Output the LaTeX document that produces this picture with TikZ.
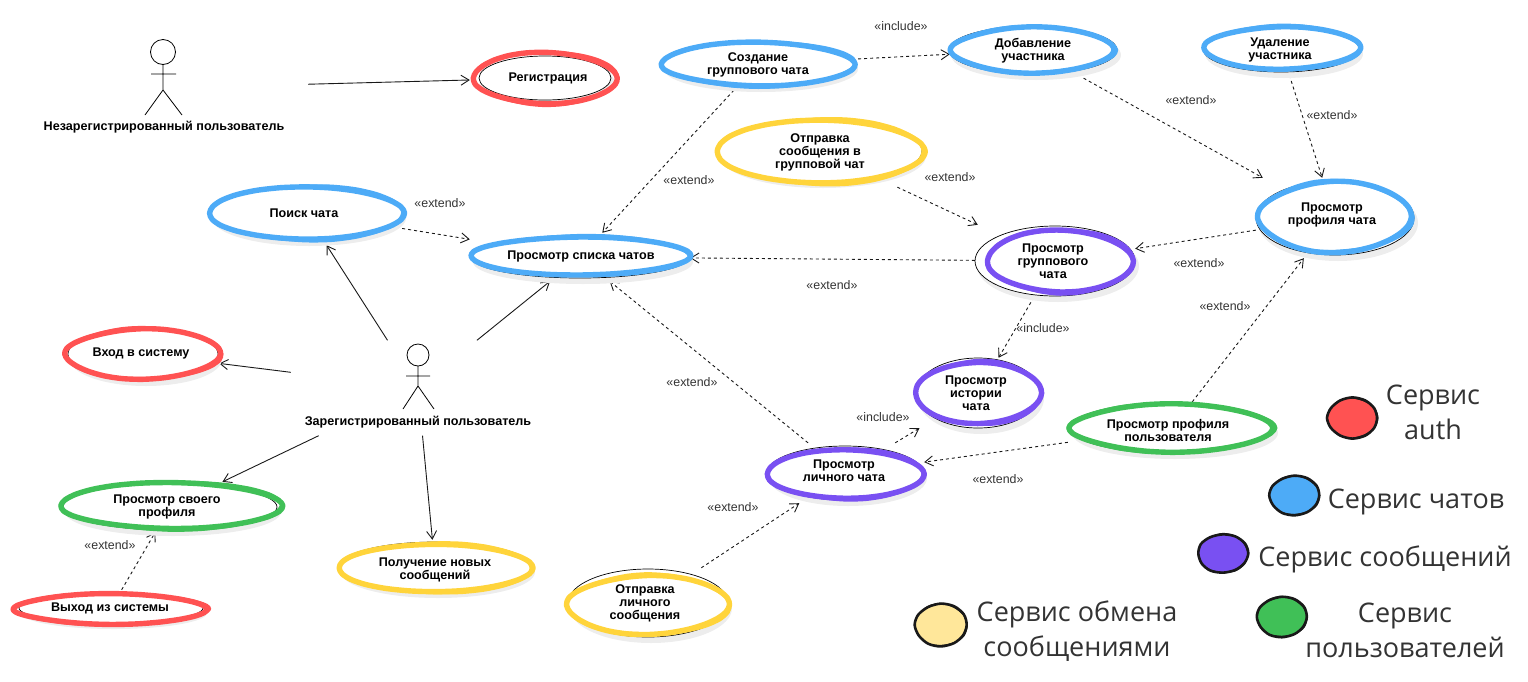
\documentclass[tikz,border=0pt]{standalone}
\usepackage{fontspec}
\setmainfont{Liberation Sans}
\newfontfamily\legendfont{Open Sans}
\usetikzlibrary{arrows.meta,backgrounds}
\definecolor{authred}{HTML}{FF5252}
\definecolor{chatblue}{HTML}{4DABF7}
\definecolor{msgpurple}{HTML}{7950F2}
\definecolor{usergreen}{HTML}{40C057}
\definecolor{xchgyellow}{HTML}{FFD43B}
\definecolor{xchgpale}{HTML}{FFE79A}
\definecolor{labelgray}{HTML}{333333}
\tikzset{
  casebox/.style={inner sep=0pt},
  casetext/.style={inner sep=0pt, align=center, font=\fontsize{12.6}{13}\selectfont\bfseries},
  actortext/.style={inner sep=0pt, font=\fontsize{12.6}{13}\selectfont\bfseries},
  relation/.style={labelgray, inner sep=0pt, font=\fontsize{12.4}{13}\selectfont},
  assoc/.style={-{Straight Barb[length=8pt,width=10pt]}, line width=0.9pt, black!90},
  depend/.style={-{Straight Barb[length=8pt,width=10pt]}, dash pattern=on 3pt off 3pt, line width=0.9pt, black!90},
  legendtext/.style={labelgray, inner sep=0pt, align=center, font=\fontsize{27}{35}\selectfont\legendfont},
}
\begin{document}
\begin{tikzpicture}[x=1pt, y=-1pt]
  \useasboundingbox (0,0) rectangle (1528,681);
  % Use cases: box, thin ellipse, marker stroke
  \foreach \nm/\cx/\cy/\hw/\hh/\rx/\ry/\ex/\ey/\dx/\dy/\col/\ph in {
      reg/545/78/75/28/66/22/73/27.5/0/0/authred/20,
      search/306/213/96/32/96/27/98.5/28.5/0/0/chatblue/70,
      list/580/257/110/24/109/21/111/21/0/-1/chatblue/130,
      login/143/354/76/28/75/26/79/26.5/0/0/authred/200,
      ownprofile/170/507/112/25/107/23/112/25/1/-1.5/usergreen/40,
      logout/111/608/98/18/92/15/98/16.5/0/1/authred/300,
      newmsg/435/567/100/27/96/25/98/26/0/1/xchgyellow/100,
      creategroup/758/64/100/26/96/22/98/23.5/0/0/chatblue/10,
      addmember/1033/50/83/28/84/24/83/24/0/0/chatblue/250,
      delmember/1281/49/80/26/78/23/79.5/23/1/-1/chatblue/160,
      sendgroup/820/151/105/36/102/31/105/34/0/0.5/xchgyellow/80,
      chatprofile/1335/218/79/40/79/37/78/36.5/0/-1/chatblue/220,
      groupview/1055/261/80/36/80/35/74/33/5/0/msgpurple/30,
      history/978/393/63/35/62/35/64/33/0/0/msgpurple/120,
      userprofile/1172/428/104/26/102/25/103/25/0/0/usergreen/280,
      personal/845/473/79/30/78/27/79.5/26.5/0/1/msgpurple/60,
      sendpersonal/648/603/84/35/80/34/82.5/31/0/2/xchgyellow/180} {
    \fill[black!7] (\cx+3,\cy+5) ellipse ({\rx+1} and {\ry+1});
    \draw[fill=white, line width=0.7pt] (\cx,\cy) ellipse ({\rx} and {\ry});
    \node[casebox, minimum width=2*\hw, minimum height=2*\hh] (\nm) at (\cx,\cy) {};
    \draw[\col, line width=5.4pt, line join=round] plot[smooth cycle, domain=0:345, samples=24, variable=\t]
      ({\cx+\dx+(\ex-1)*(1+0.012*sin(3*\t+\ph))*cos(\t)},{\cy+\dy+(\ey-1.5)*(1+0.035*sin(2*\t+\ph))*(1-0.1*cos(\t)*cos(\t))*sin(\t)});
    \draw[\col, line width=3pt, line join=round] plot[smooth cycle, domain=0:345, samples=24, variable=\t]
      ({\cx+\dx+(\ex-0.5)*(1-0.015*sin(4*\t+\ph))*cos(\t)},{\cy+\dy+(\ey-1)*(1-0.045*sin(3*\t+\ph))*(1-0.07*cos(\t)*cos(\t))*sin(\t)});
  }
  % Use case names
  \foreach \nm/\x/\y/\lab in {
      reg/548/78/{Регистрация},
      search/304/213/{Поиск чата},
      list/581/256/{Просмотр списка чатов},
      login/141/353/{Вход в систему},
      ownprofile/167/507/{Просмотр своего\\профиля},
      logout/110/608/{Выход из системы},
      newmsg/435/570/{Получение новых\\сообщений},
      creategroup/758/65/{Создание\\группового чата},
      addmember/1033/51/{Добавление\\участника},
      delmember/1280/50/{Удаление\\участника},
      sendgroup/820/152/{Отправка\\сообщения в\\групповой чат},
      chatprofile/1332/215/{Просмотр\\профиля чата},
      groupview/1053/261/{Просмотр\\группового\\чата},
      history/976/393/{Просмотр\\истории\\чата},
      userprofile/1168/430/{Просмотр профиля\\пользователя},
      personal/844/471/{Просмотр\\личного чата},
      sendpersonal/645/603/{Отправка\\личного\\сообщения}}
    \node[casetext] (\nm text) at (\x,\y) {\lab};
  % Actor boxes and their names
  \node[minimum width=288, minimum height=94, inner sep=0pt] (unreg) at (164,88) {};
  \node[minimum width=254, minimum height=95, inner sep=0pt] (regd) at (418,388) {};
  \node[actortext] (unregname) at (164,127.5) {Незарегистрированный пользователь};
  \node[actortext] (regdname) at (418,422.5) {Зарегистрированный пользователь};
  % Stick figures
  \draw[line width=0.8pt] (163,52) circle (12.5);
  \draw[line width=0.8pt] (163,65) -- (163,90) (151,74) -- (176,74) (145,115) -- (163,90) -- (182,115);
  \draw[line width=0.8pt] (418,355) circle (11);
  \draw[line width=0.8pt] (418,366) -- (418,386) (406,376) -- (430,376) (403,409) -- (418,386) -- (434,409);
  % Connectors
  \begin{scope}[on background layer]
    \foreach \from/\to in {unreg/reg, regd/search, regd/list, regd/login, regd/ownprofile, regd/newmsg}
      \draw[assoc] (\from) -- (\to);
    \foreach \from/\to in {search/list, creategroup/list, creategroup/addmember, addmember/chatprofile,
        delmember/chatprofile, sendgroup/groupview, groupview/list, chatprofile/groupview,
        groupview/history, userprofile/chatprofile, userprofile/personal, personal/list,
        personal/history, sendpersonal/personal, logout/ownprofile}
      \draw[depend] (\from) -- (\to);
  \end{scope}
  % Relation labels
  \foreach \x/\y/\lab [count=\i] in {440/203/extend, 689/180/extend, 950/177/extend, 1191/100/extend,
      1332/115/extend, 832/285/extend, 1199/263/extend, 1225/306/extend, 692/382/extend,
      998/479/extend, 733/507/extend, 110/545/extend, 901/26/include, 1043/328/include, 883/417/include}
    \node[relation] (rel\i) at (\x,\y) {«\lab»};
  % Legend blobs
  \foreach \x/\y/\rx/\ry/\col in {1352.5/418/25/20/authred, 1294.5/495.5/25/19.5/chatblue, 1223/553.5/25/19.5/msgpurple,
      1282/617/25/20/usergreen, 941/625/26/21/xchgpale} {
    \draw[fill=\col, draw=black!90, line width=2.6pt] plot[smooth cycle, domain=0:330, samples=12, variable=\t]
      ({\x+\rx*(1+0.02*sin(3*\t+\x))*cos(\t)},{\y+\ry*(1+0.03*sin(2*\t+\x))*sin(\t)});
    \draw[black!90, line width=1pt] plot[smooth cycle, domain=0:330, samples=12, variable=\t]
      ({\x+\rx*(1-0.02*sin(2*\t+\x))*cos(\t)},{\y+\ry*(1-0.04*sin(3*\t+\x))*sin(\t)});
  }
  % Legend texts
  \node[legendtext] (legauth) at (1433,412) {Сервис\\auth};
  \node[legendtext] (legchat) at (1416,502) {Сервис чатов};
  \node[legendtext] (legmsg) at (1385,559.5) {Сервис сообщений};
  \node[legendtext] (leguser) at (1405,630) {Сервис\\пользователей};
  \node[legendtext] (legxchg) at (1077,631) {Сервис обмена\\сообщениями};
\end{tikzpicture}
\end{document}
